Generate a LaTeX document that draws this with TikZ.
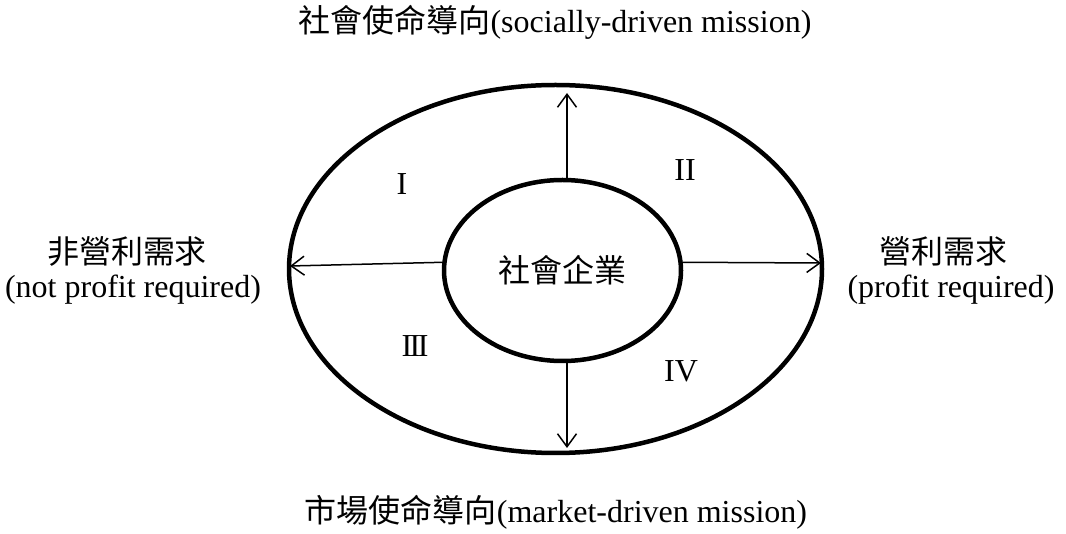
\documentclass[tikz,border=0pt]{standalone}
\usepackage{fontspec}
\setmainfont{Liberation Serif}
\newfontfamily\cjk{Noto Sans CJK TC}
\usetikzlibrary{shapes.geometric,arrows.meta}
\tikzset{
  ring/.style={draw, ellipse, line width=4.5pt, inner sep=0pt, outer sep=0pt},
  arr/.style={line width=1.5pt, -{Straight Barb[length=13pt,width=19pt]}},
  lbl/.style={inner sep=0pt, font=\fontsize{32}{40}\selectfont, align=center},
  roman/.style={inner sep=0pt, font=\fontsize{32}{40}\selectfont}
}
\begin{document}
\begin{tikzpicture}[x=1pt,y=-1pt]
\useasboundingbox (0,0) rectangle (1066,534);
\node[ring, minimum width=533pt, minimum height=368pt] (outer) at (555.5,269) {};
\node[ring, minimum width=237pt, minimum height=181pt, font=\fontsize{32}{40}\selectfont] (inner) at (562.5,270.5) {\cjk 社會企業};
\coordinate (tT) at (567,93);
\coordinate (tB) at (567,448);
\coordinate (tL) at (290,266);
\coordinate (tR) at (821,263);
\draw[arr] (inner.north -| tT) -- (tT);
\draw[arr] (inner.south -| tB) -- (tB);
\draw[arr] (inner.176) -- (tL);
\draw[arr] (inner.4) -- (tR);
\node[lbl] (top) at (555,22) {{\cjk 社會使命導向}(socially-driven mission)};
\node[lbl] (bot) at (556,512) {{\cjk 市場使命導向}(market-driven mission)};
\node[lbl] (lcjk) at (127,252) {\cjk 非營利需求};
\node[lbl, anchor=base] (leng) at (133,298) {(not profit required)};
\node[lbl] (rcjk) at (943,251) {\cjk 營利需求};
\node[lbl, anchor=base] (reng) at (951,298) {(profit required)};
\node[roman] (q1) at (402,184) {I};
\node[roman] (q2) at (685,170) {II};
\node[roman] (q3) at (415,346) {I\kern-2.5pt I\kern-2.5pt I};
\node[roman] (q4) at (681,371) {IV};
\end{tikzpicture}
\end{document}
